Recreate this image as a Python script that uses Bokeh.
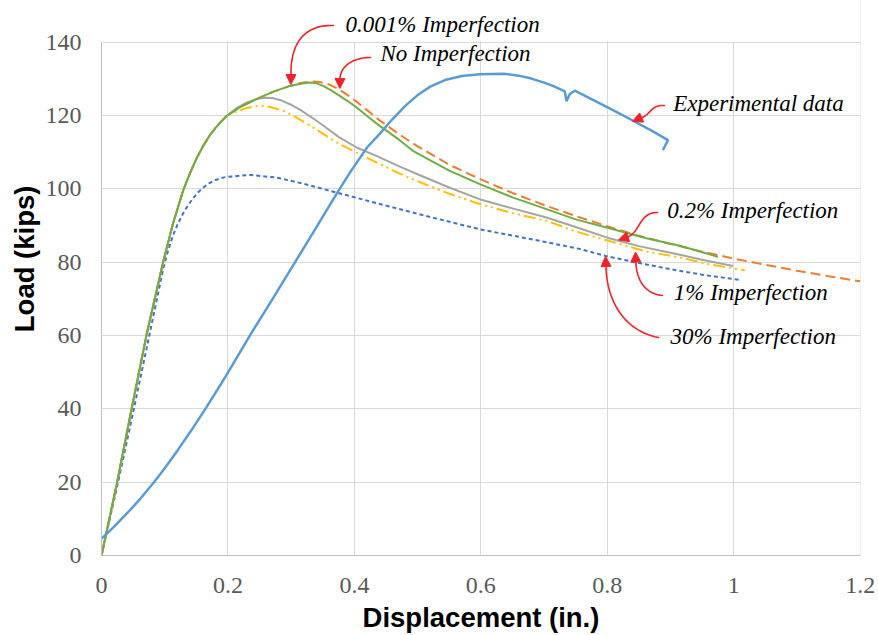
import numpy as np
from bokeh.plotting import figure
from bokeh.models import (Range1d, FixedTicker, NumeralTickFormatter, Label,
                          Arrow, NormalHead, PolyAnnotation, BoxAnnotation)
from bokeh.embed import file_html
from bokeh.resources import INLINE

# ---------------- data ----------------
x_ticks = [0, 0.2, 0.4, 0.6, 0.8, 1.0, 1.2]
y_ticks = [0, 20, 40, 60, 80, 100, 120, 140]

exp_x = [0, 0.02, 0.042, 0.062, 0.083, 0.1, 0.12, 0.14, 0.162, 0.18, 0.2, 0.236, 0.27,
         0.304, 0.34, 0.373, 0.395, 0.42, 0.44, 0.46, 0.48, 0.5, 0.52, 0.545, 0.57,
         0.598, 0.636, 0.66, 0.68, 0.7, 0.714, 0.7328, 0.7355, 0.7407, 0.7486, 0.775,
         0.809, 0.841, 0.87, 0.896, 0.888]
exp_y = [4.6, 7.9, 11.8, 15.6, 20.0, 23.8, 28.6, 33.6, 39.4, 44.3, 49.9, 60.4, 69.8,
         79.4, 89.6, 99.0, 105.0, 111.3, 115.0, 119.0, 122.6, 125.6, 127.9, 129.8, 130.8,
         131.3, 131.4, 130.9, 130.1, 129.0, 128.1, 126.6, 123.9, 125.9, 126.8, 124.5,
         121.5, 118.6, 115.9, 113.3, 110.6]

# common elastic branch of the FE curves (read once, shared by the series below)
fe_x0 = [0, 0.024, 0.048, 0.0715, 0.098, 0.113, 0.129, 0.14, 0.15, 0.16, 0.17, 0.18,
         0.19, 0.198]
fe_y0 = [0, 19.4, 40.3, 60.4, 80.4, 90.5, 99.5, 104.3, 108.2, 111.5, 114.3, 116.6,
         118.5, 119.9]

noimp_x = fe_x0 + [0.21, 0.22, 0.245, 0.27, 0.298, 0.315, 0.33, 0.345, 0.36, 0.375,
                   0.39, 0.405, 0.42, 0.44, 0.47, 0.5, 0.55, 0.6, 0.65, 0.7, 0.75, 0.8,
                   0.85, 0.9, 0.95, 1.0, 1.05, 1.1, 1.15, 1.2]
noimp_y = fe_y0 + [121.3, 122.4, 124.5, 126.4, 128.1, 128.9, 129.3, 129.2, 128.5, 127.2,
                   125.5, 123.6, 121.5, 118.7, 115.0, 111.6, 106.6, 102.6, 98.9, 95.6,
                   92.6, 89.8, 87.2, 85.0, 82.9, 81.0, 79.3, 77.7, 76.2, 74.8]

imp0001_x = fe_x0 + [0.21, 0.22, 0.245, 0.27, 0.298, 0.315, 0.3296, 0.34, 0.3507, 0.362,
                     0.375, 0.39, 0.4035, 0.42, 0.44, 0.47, 0.4925, 0.55, 0.5984, 0.65,
                     0.7038, 0.75, 0.8092, 0.86, 0.9146, 0.945, 0.975]
imp0001_y = fe_y0 + [121.3, 122.4, 124.5, 126.4, 128.1, 128.7, 129.0, 128.8, 128.1, 127.0,
                     125.6, 123.9, 122.2, 119.9, 117.2, 113.5, 110.4, 105.0, 101.3, 97.7,
                     94.5, 91.7, 89.0, 86.6, 84.5, 83.0, 81.5]

imp02_x = fe_x0 + [0.215, 0.23, 0.245, 0.2585, 0.27, 0.285, 0.298, 0.315, 0.335, 0.3507,
                   0.375, 0.4035, 0.44, 0.47, 0.5, 0.55, 0.598, 0.65, 0.704, 0.75, 0.8,
                   0.85, 0.9, 0.95, 0.999]
imp02_y = fe_y0 + [122.2, 123.6, 124.5, 124.9, 124.8, 124.1, 123.1, 121.5, 119.2, 117.3,
                   114.2, 111.3, 108.6, 106.2, 104.0, 100.4, 97.2, 94.7, 92.2, 89.6, 86.7,
                   84.4, 82.6, 80.7, 79.0]

imp1_x = fe_x0 + [0.215, 0.23, 0.2454, 0.26, 0.275, 0.29, 0.305, 0.325, 0.3507, 0.375,
                  0.4035, 0.4403, 0.47, 0.5, 0.55, 0.598, 0.65, 0.704, 0.75, 0.809, 0.86,
                  0.9146, 0.96, 1.0175]
imp1_y = fe_y0 + [121.2, 122.1, 122.6, 122.6, 122.0, 121.1, 119.8, 117.8, 115.0, 112.4,
                  109.9, 106.8, 104.3, 102.1, 98.7, 95.9, 93.4, 91.3, 88.4, 85.5, 83.0,
                  81.3, 79.5, 77.8]

imp30_x = [0, 0.025, 0.05, 0.075, 0.098, 0.105, 0.113, 0.121, 0.129, 0.137, 0.145, 0.153,
           0.161, 0.17, 0.18, 0.19, 0.198, 0.235, 0.277, 0.32, 0.372, 0.44, 0.5, 0.598,
           0.7, 0.757, 0.8, 0.85, 0.9, 0.95, 1.012]
imp30_y = [0, 19.0, 39.0, 59.5, 78.5, 83.0, 87.3, 90.6, 93.3, 95.6, 97.5, 99.1,
           100.4, 101.5, 102.4, 103.0, 103.3, 103.8, 103.1, 101.4, 99.0, 95.9, 93.2, 89.0,
           85.6, 83.6, 81.6, 79.8, 78.1, 76.6, 75.1]

labels = ["0.001% Imperfection", "No Imperfection", "Experimental data",
          "0.2% Imperfection", "1% Imperfection", "30% Imperfection"]

# ---------------- figure ----------------
W, H = 878, 635
FL, FR, FT, FB = 101, 18, 0, 80
FW, FH = W - FL - FR, H - FT - FB
X_END = 1.2005
Y_END = 151.4
p = figure(width=W, height=H, output_backend="svg", toolbar_location=None,
           x_range=Range1d(0, X_END), y_range=Range1d(0, Y_END),
           min_border_left=FL, min_border_right=FR, min_border_top=FT,
           min_border_bottom=FB)
p.background_fill_color = "white"
p.border_fill_color = "white"
p.outline_line_color = None

xt = FixedTicker(ticks=x_ticks)
yt = FixedTicker(ticks=y_ticks)
p.xaxis.ticker = xt
p.yaxis.ticker = yt
p.xgrid.ticker = xt
p.ygrid.ticker = yt
p.xaxis.formatter = NumeralTickFormatter(format="0.[0]")
for g in (p.xgrid, p.ygrid):
    g.grid_line_color = "#D9D9D9"
    g.grid_line_width = 1

# hide the grid above the top value of the axis (region only used by a label)
p.add_layout(BoxAnnotation(bottom=y_ticks[-1] + 0.3, fill_color="white", fill_alpha=1,
                           line_alpha=0, level="underlay"))

for ax in (p.xaxis, p.yaxis):
    ax.axis_line_color = "#BFBFBF"
    ax.axis_line_width = 1
    ax.major_tick_line_color = None
    ax.minor_tick_line_color = None
    ax.major_tick_out = 0
    ax.major_tick_in = 0
    ax.major_label_text_font = "Liberation Serif"
    ax.major_label_text_font_size = "24px"
    ax.major_label_text_color = "#595959"
    ax.axis_label_text_font = "Liberation Sans"
    ax.axis_label_text_font_style = "bold"
    ax.axis_label_text_font_size = "27.5px"
    ax.axis_label_text_color = "black"

p.yaxis.bounds = (y_ticks[0], y_ticks[-1])
p.xaxis.axis_label = "Displacement (in.)"
p.xaxis.major_label_standoff = 22
p.xaxis.axis_label_standoff = 6
p.yaxis.axis_label = "\u00a0" * 5 + "Load (kips)"
p.yaxis.major_label_standoff = 20
p.yaxis.axis_label_standoff = 3

# ---------------- curves ----------------
p.line(imp30_x, imp30_y, line_color="#4472C4", line_width=2, line_dash="4 3")
p.line(imp1_x, imp1_y, line_color="#FFC000", line_width=2, line_dash="12 4 2 4 2 4")
p.line(imp02_x, imp02_y, line_color="#A5A5A5", line_width=2)
p.line(noimp_x, noimp_y, line_color="#ED7D31", line_width=2, line_dash="10 5")
p.line(imp0001_x, imp0001_y, line_color="#70AD47", line_width=2)
p.line(exp_x, exp_y, line_color="#5B9BD5", line_width=2.5)

# ---------------- annotations (page-pixel positions -> data) ----------------
SX, SY = FW / X_END, FH / Y_END
X0, Y0 = FL, FT + FH


def dx(px):
    return (px - X0) / SX


def dy(py):
    return (Y0 - py) / SY


RED = "#EE2229"
text_pos = [(345, 24), (380, 53), (672.7, 103.3), (666.7, 210), (673.3, 291.7), (670, 336)]
for t, (tx, ty) in zip(labels, text_pos):
    p.add_layout(Label(x=dx(tx), y=dy(ty), text=t, text_font="Liberation Serif",
                       text_font_style="italic", text_font_size="23px",
                       text_baseline="middle", text_align="left", text_color="black"))

arrows = [
    ((333, 25), (302, 24), (290, 45), (290.5, 74), (290.3, 84)),
    ((370, 57), (352, 57), (340, 66), (339.5, 78), (339.3, 88)),
    ((664, 105), (650, 104), (650, 115), (640, 117.5), (632, 121)),
    ((657, 212), (638, 212), (640, 232), (627, 236.5), (618, 239.5)),
    ((662, 295), (643, 293), (636, 278), (635.3, 261), (635, 251.5)),
    ((658, 337), (622, 330), (606, 298), (605.5, 266), (605, 256)),
]
tt = np.linspace(0, 1, 30)
for P0, C0, C1, P1, tip in arrows:
    bx = ((1 - tt) ** 3 * P0[0] + 3 * (1 - tt) ** 2 * tt * C0[0]
          + 3 * (1 - tt) * tt ** 2 * C1[0] + tt ** 3 * P1[0])
    by = ((1 - tt) ** 3 * P0[1] + 3 * (1 - tt) ** 2 * tt * C0[1]
          + 3 * (1 - tt) * tt ** 2 * C1[1] + tt ** 3 * P1[1])
    xs = [dx(v) for v in list(bx) + list(bx[::-1])]
    ys = [dy(v) for v in list(by) + list(by[::-1])]
    p.add_layout(PolyAnnotation(xs=xs, ys=ys, fill_alpha=0, line_color=RED,
                                line_alpha=1, line_width=1.6, line_join="round"))
    p.add_layout(Arrow(x_start=dx(P1[0]), y_start=dy(P1[1]), x_end=dx(tip[0]),
                       y_end=dy(tip[1]), line_color=RED, line_width=1.6,
                       end=NormalHead(size=10, fill_color=RED, line_color=RED,
                                      line_width=1)))

open("out.html", "w").write(file_html(p, INLINE))
